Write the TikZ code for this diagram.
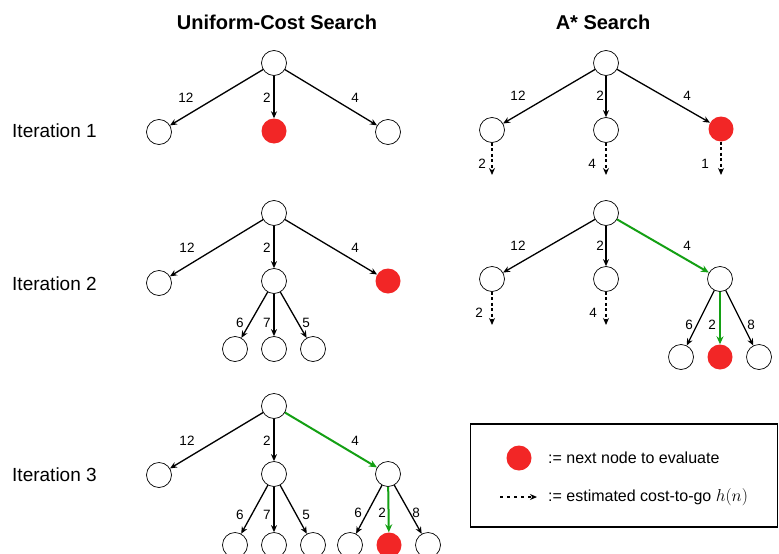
\documentclass[tikz,border=0pt]{standalone}
\usepackage{fontspec}
\setmainfont{Liberation Sans}
\usetikzlibrary{arrows.meta}
\definecolor{myred}{RGB}{242,38,38}
\definecolor{mygreen}{RGB}{20,160,20}
\tikzset{
  st/.style={circle,draw,minimum size=25pt,inner sep=0pt,line width=0.7pt},
  rd/.style={circle,fill=myred,minimum size=25pt,inner sep=0pt},
  ed/.style={-{Stealth[length=7pt,width=6pt]},line width=1.3pt},
  ged/.style={-{Stealth[length=8pt,width=7pt]},line width=2pt,draw=mygreen,color=mygreen},
  hed/.style={ed,dash pattern=on 3pt off 2.5pt},
  lbl/.style={font=\fontsize{13.5}{15}\selectfont,inner sep=0pt},
  ttl/.style={font=\fontsize{20}{24}\selectfont\bfseries},
  itl/.style={font=\fontsize{19}{22}\selectfont,anchor=west,inner sep=0pt},
  lgt/.style={font=\fontsize{16}{19}\selectfont,anchor=west,inner sep=0pt}
}
\begin{document}
\begin{tikzpicture}[x=1pt,y=-1pt]
\clip (0,0) rectangle (779,554);
\fill[white] (0,0) rectangle (779,554);
% titles
\node[ttl] (t1) at (277,22) {Uniform-Cost Search};
\node[ttl] (t2) at (603,22) {A* Search};
\node[itl] (i1) at (12,131) {Iteration 1};
\node[itl] (i2) at (12,284) {Iteration 2};
\node[itl] (i3) at (12,475) {Iteration 3};
% Panel A
\node[st] (a0) at (274,63) {};
\node[st] (a1) at (159,132) {};
\node[rd] (a2) at (274,131) {};
\node[st] (a3) at (388,132) {};
\draw[ed] (a0) -- (a1);
\draw[ed] (a0) -- (a2);
\draw[ed] (a0) -- (a3);
\node[lbl] (la1) at (186,98) {12};
\node[lbl] (la2) at (267,98) {2};
\node[lbl] (la3) at (355,98) {4};
% Panel B
\node[st] (b0) at (606,63) {};
\node[st] (b1) at (492,130) {};
\node[st] (b2) at (606,130) {};
\node[rd] (b3) at (721,129) {};
\draw[ed] (b0) -- (b1);
\draw[ed] (b0) -- (b2);
\draw[ed] (b0) -- (b3);
\coordinate (hb1) at (492,175);
\coordinate (hb2) at (606,175);
\coordinate (hb3) at (721,175);
\draw[hed] (b1) -- (hb1);
\draw[hed] (b2) -- (hb2);
\draw[hed] (b3) -- (hb3);
\node[lbl] (lb1) at (518,96) {12};
\node[lbl] (lb2) at (600,96) {2};
\node[lbl] (lb3) at (687,96) {4};
\node[lbl] (lb4) at (482,164) {2};
\node[lbl] (lb5) at (592,164) {4};
\node[lbl] (lb6) at (705,164) {1};
% Panel C
\node[st] (c0) at (274,213) {};
\node[st] (c1) at (159,283) {};
\node[st] (c2) at (274,281) {};
\node[rd] (c3) at (388,281) {};
\node[st] (c4) at (235,349) {};
\node[st] (c5) at (274,349) {};
\node[st] (c6) at (313,349) {};
\draw[ed] (c0) -- (c1);
\draw[ed] (c0) -- (c2);
\draw[ed] (c0) -- (c3);
\draw[ed] (c2) -- (c4);
\draw[ed] (c2) -- (c5);
\draw[ed] (c2) -- (c6);
\node[lbl] (lc1) at (187,248) {12};
\node[lbl] (lc2) at (267,248) {2};
\node[lbl] (lc3) at (355,248) {4};
\node[lbl] (lc4) at (240,323) {6};
\node[lbl] (lc5) at (267,323) {7};
\node[lbl] (lc6) at (306,323) {5};
% Panel D
\node[st] (d0) at (606,213) {};
\node[st] (d1) at (492,279) {};
\node[st] (d2) at (606,279) {};
\node[st] (d3) at (720,279) {};
\node[st] (d4) at (681,357) {};
\node[rd] (d5) at (720,357) {};
\node[st] (d6) at (759,357) {};
\draw[ed] (d0) -- (d1);
\draw[ed] (d0) -- (d2);
\draw[ged] (d0) -- (d3);
\draw[ed] (d3) -- (d4);
\draw[ged] (d3) -- (d5);
\draw[ed] (d3) -- (d6);
\coordinate (hd1) at (492,325);
\coordinate (hd2) at (606,325);
\draw[hed] (d1) -- (hd1);
\draw[hed] (d2) -- (hd2);
\node[lbl] (ld1) at (518,246) {12};
\node[lbl] (ld2) at (600,246) {2};
\node[lbl] (ld3) at (687,246) {4};
\node[lbl] (ld4) at (479,313) {2};
\node[lbl] (ld5) at (593,313) {4};
\node[lbl] (ld6) at (689,325) {6};
\node[lbl] (ld7) at (712,325) {2};
\node[lbl] (ld8) at (751,325) {8};
% Panel E
\node[st] (e0) at (274,406) {};
\node[st] (e1) at (159,475) {};
\node[st] (e2) at (274,474) {};
\node[st] (e3) at (388,474) {};
\node[st] (e4) at (235,545) {};
\node[st] (e5) at (274,545) {};
\node[st] (e6) at (313,545) {};
\node[st] (e7) at (350,545) {};
\node[rd] (e8) at (389,545) {};
\node[st] (e9) at (428,545) {};
\draw[ed] (e0) -- (e1);
\draw[ed] (e0) -- (e2);
\draw[ged] (e0) -- (e3);
\draw[ed] (e2) -- (e4);
\draw[ed] (e2) -- (e5);
\draw[ed] (e2) -- (e6);
\draw[ed] (e3) -- (e7);
\draw[ged] (e3) -- (e8);
\draw[ed] (e3) -- (e9);
\node[lbl] (le1) at (187,441) {12};
\node[lbl] (le2) at (267,441) {2};
\node[lbl] (le3) at (355,441) {4};
\node[lbl] (le4) at (240,515) {6};
\node[lbl] (le5) at (267,515) {7};
\node[lbl] (le6) at (306,515) {5};
\node[lbl] (le7) at (358,513) {6};
\node[lbl] (le8) at (382,513) {2};
\node[lbl] (le9) at (416,513) {8};
% Legend
\node[draw,line width=1.2pt,minimum width=307pt,minimum height=103pt,inner sep=0pt] (box) at (624,475.5) {};
\node[rd] (lr) at (519,458) {};
\node[lgt] (lt1) at (548,458) {:= next node to evaluate};
\coordinate (la) at (500,497);
\coordinate (lz) at (537,497);
\draw[ed,dash pattern=on 3pt off 4pt] (la) -- (lz);
\node[lgt] (lt2) at (548,497) {:= estimated cost-to-go $h(n)$};
\end{tikzpicture}
\end{document}
